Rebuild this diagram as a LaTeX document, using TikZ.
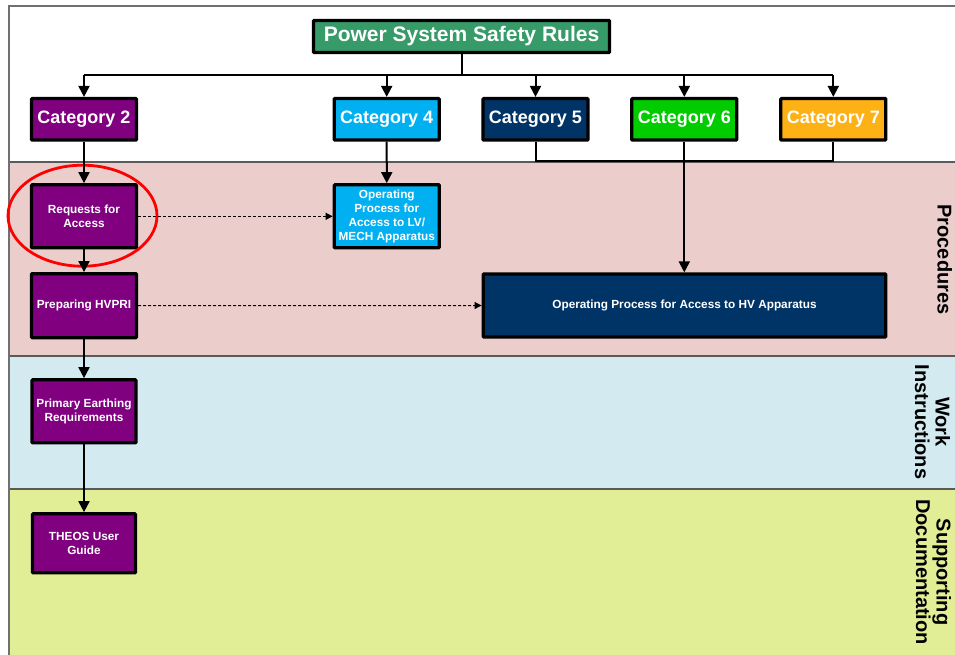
\documentclass[tikz,border=0pt]{standalone}
\usepackage{fontspec}
\setmainfont{Liberation Sans}
\usetikzlibrary{arrows.meta}

\definecolor{laneborder}{RGB}{90,90,90}
\definecolor{frameborder}{RGB}{112,112,112}
\definecolor{procfill}{RGB}{235,205,204}
\definecolor{workfill}{RGB}{210,234,240}
\definecolor{docfill}{RGB}{226,238,150}
\definecolor{rulesgreen}{RGB}{55,155,105}
\definecolor{catpurple}{RGB}{128,0,128}
\definecolor{catcyan}{RGB}{0,176,240}
\definecolor{catnavy}{RGB}{0,51,102}
\definecolor{catgreen}{RGB}{0,204,0}
\definecolor{catorange}{RGB}{253,177,20}

\tikzset{
  box/.style={draw=black, line width=3.3pt, rounded corners=0.8pt,
    text=white, font=\bfseries, inner sep=2pt, align=center},
  catbox/.style={box, minimum width=105pt, minimum height=41.5pt,
    font=\fontsize{18}{21}\bfseries},
  docbox/.style={box, minimum width=105pt, minimum height=63pt,
    font=\fontsize{11.8}{14.2}\bfseries},
  link/.style={draw=black, line width=2pt, -{Triangle[length=11pt,width=11pt]}},
  plain/.style={draw=black, line width=2pt},
  reflink/.style={draw=black, line width=1pt, dashed,
    dash pattern=on 3pt off 2pt, -{Triangle[length=7pt,width=7pt]}},
  lanelabel/.style={rotate=-90, text=black, inner sep=0pt, align=center,
    font=\fontsize{20}{20.5}\bfseries},
}

\begin{document}
\begin{tikzpicture}[x=1pt, y=-1pt]
\useasboundingbox (0,0) rectangle (955,654);
\clip (0,0) rectangle (955,654);

% swim lanes
\fill[white] (9,6) rectangle (965,162);
\fill[procfill] (9,162) rectangle (965,356);
\fill[workfill] (9,356) rectangle (965,489);
\fill[docfill] (9,489) rectangle (965,665);
\draw[laneborder, line width=1.3pt] (9,162) -- (965,162);
\draw[laneborder, line width=1.3pt] (9,356) -- (965,356);
\draw[laneborder, line width=1.3pt] (9,489) -- (965,489);
\draw[frameborder, line width=2pt] (9,665) -- (9,6) -- (965,6);

% lane titles (base anchor sits on the baseline of the last line)
\node[lanelabel, anchor=base] (lproc) at (937.5,259.5) {Procedures};
\node[lanelabel, anchor=base] (lwork) at (915,422) {Work\\Instructions};
\node[lanelabel, anchor=base] (ldoc) at (916,572) {Supporting\\Documentation};

% rules and categories
\node[box, fill=rulesgreen, minimum width=296pt, minimum height=32pt,
  font=\fontsize{21}{24}\bfseries] (rules) at (461.5,36.5) {Power System Safety Rules};
\node[catbox, fill=catpurple] (cat2) at (84,119.3) {Category 2};
\node[catbox, fill=catcyan] (cat4) at (386.7,119.3) {Category 4};
\node[catbox, fill=catnavy] (cat5) at (535.5,119.3) {Category 5};
\node[catbox, fill=catgreen] (cat6) at (684.3,119.3) {Category 6};
\node[catbox, fill=catorange] (cat7) at (833.3,119.3) {Category 7};

% documents
\node[docbox, fill=catpurple] (req) at (84,216.3) {Requests for\\Access};
\node[docbox, fill=catcyan] (lv) at (386.8,216.3) {Operating\\Process for\\Access to LV/\\MECH Apparatus};
\node[docbox, fill=catpurple, minimum height=64pt] (prep) at (84,305.7) {Preparing HVPRI};
\node[docbox, fill=catnavy, minimum width=402.6pt] (hv) at (684.5,305.5)
  {Operating Process for Access to HV Apparatus};
\node[docbox, fill=catpurple, minimum width=104pt] (prim) at (84,411.3) {Primary Earthing\\Requirements};
\node[docbox, fill=catpurple, minimum width=103pt, minimum height=59pt] (theos) at (84,543.3) {THEOS User\\Guide};

% highlight
\draw[red, line width=2.8pt] (82.5,215.7) ellipse [x radius=74.5, y radius=50.5];

% distribution bus from the rules
\coordinate (bus) at (461.5,75);
\coordinate (merge) at (684.3,161);
\draw[plain] (rules.south) -- (bus);
\draw[plain] (bus -| cat2) -- (bus -| cat7);
\foreach \c in {cat2,cat4,cat5,cat6,cat7}
  \draw[link] (bus -| \c) -- (\c);

% categories into procedures
\draw[plain] (cat5.south) -- (merge -| cat5) -- (merge -| cat7) -- (cat7.south);
\draw[link] (cat6.south) -- (hv.north -| cat6);
\draw[link] (cat4) -- (lv);
\draw[link] (cat2) -- (req);
\draw[link] (req) -- (prep);
\draw[link] (prep) -- (prim);
\draw[link] (prim) -- (theos);

% cross references
\draw[reflink] (req.east) -- (lv.west);
\draw[reflink] (prep.east) -- (hv.west);
\end{tikzpicture}
\end{document}
